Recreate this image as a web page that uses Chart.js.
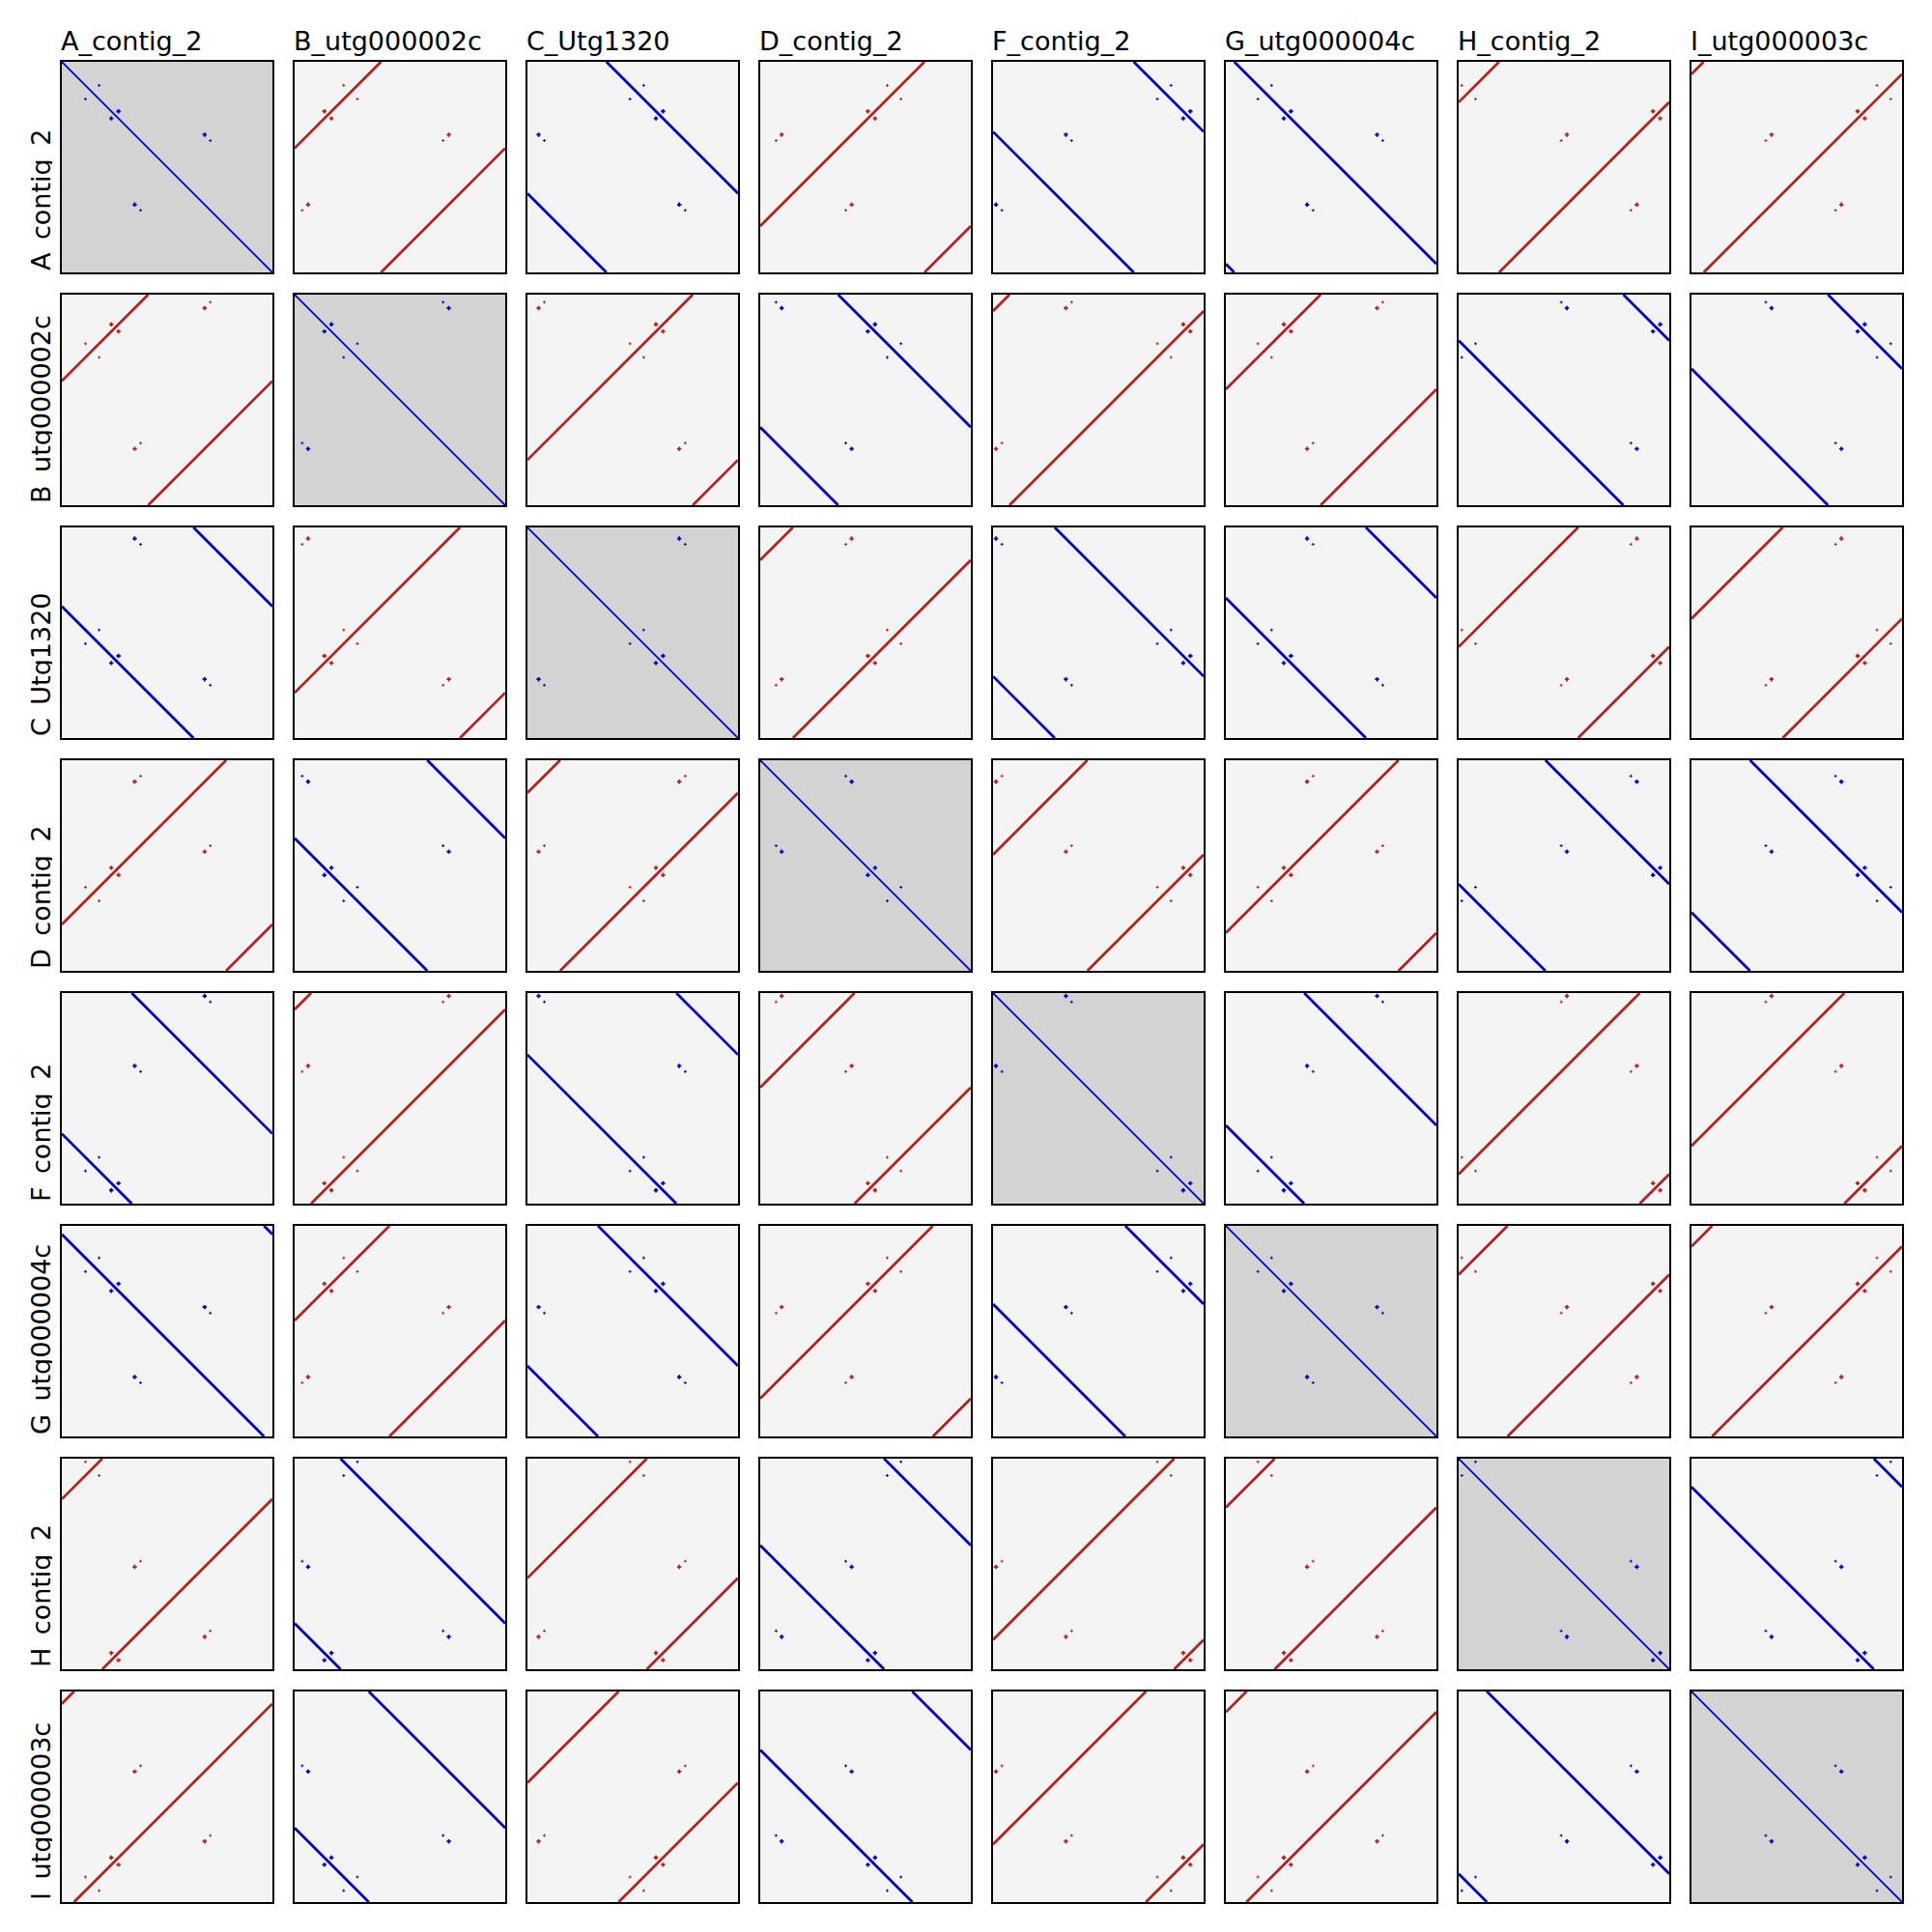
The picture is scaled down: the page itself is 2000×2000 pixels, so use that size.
<!DOCTYPE html>
<html>
<head>
<meta charset="utf-8">
<script src="https://cdn.jsdelivr.net/npm/chart.js@4.4.1/dist/chart.umd.min.js"></script>
<style>
    body { margin: 0; background: #fff; font-family: "DejaVu Sans", sans-serif; }
    #fig { position: relative; width: 2000px; height: 2000px; }
    .panel { position: absolute; width: 222px; height: 222px; box-sizing: border-box; border: 2px solid #000; background: #f4f4f4; }
    .panel.self { background: #d3d3d3; }
    .panel canvas { display: block; }
    .title { position: absolute; font-size: 27px; line-height: 27px; white-space: nowrap; color: #000; }
    .rowclip { position: absolute; left: 0; width: 54px; height: 222px; overflow: hidden; }
    .rowlab { position: absolute; left: 29px; font-size: 27px; line-height: 27px; white-space: nowrap; color: #000;
              transform-origin: 0 0; transform: rotate(-90deg); }
</style>
</head>
<body>
<div id="fig"></div>
<script>
// contigs, in plot order (rows and columns)
const contigNames = ['A_contig_2', 'B_utg000002c', 'C_Utg1320', 'D_contig_2',
                     'F_contig_2', 'G_utg000004c', 'H_contig_2', 'I_utg000003c'];
// where each contig starts on the A_contig_2 coordinate (fraction of length) and its strand
const contigOffsets = [0, 0.41, 0.625, 0.78, 0.332, 0.96, 0.192, 0.058];
const contigStrands = [1, -1, 1, -1, 1, 1, -1, -1];
// short repeats, both copies given in A_contig_2 coordinates
const repeatFirst = [0.112, 0.235, 0.346, 0.374];
const repeatSecond = [0.177, 0.269, 0.678, 0.705];

// styles
const sameColor = '#0000cd';
const revColor = '#b22222';
const dotRadius = [1.5, 2.2, 2.2, 1.5];
const dotWidth = [1, 1.8, 1.8, 1];

const step = 241, origin = 62, box = 222;

function pos(k, g) {
    return ((contigStrands[k] * (g - contigOffsets[k])) % 1 + 1) % 1;
}

// alignment line of contig j (x) against contig i (y), wrapped at the ends
function segments(i, j) {
    const k = contigStrands[i] * contigStrands[j];
    const c = ((contigStrands[i] * (contigOffsets[j] - contigOffsets[i])) % 1 + 1) % 1;
    let segs;
    if (k > 0) {
        segs = [[{x: 0, y: c}, {x: 1 - c, y: 1}], [{x: 1 - c, y: 0}, {x: 1, y: c}]];
    } else {
        segs = [[{x: 0, y: c}, {x: c, y: 0}], [{x: c, y: 1}, {x: 1, y: c}]];
    }
    return segs.filter(s => Math.abs(s[0].x - s[1].x) > 1e-6);
}

const fig = document.getElementById('fig');

contigNames.forEach((name, j) => {
    const t = document.createElement('div');
    t.className = 'title';
    t.textContent = name;
    t.style.left = (origin + step * j + 1) + 'px';
    t.style.top = (origin - 33) + 'px';
    fig.appendChild(t);
});

contigNames.forEach((name, i) => {
    const clip = document.createElement('div');
    clip.className = 'rowclip';
    clip.style.top = (origin + step * i) + 'px';
    const lab = document.createElement('span');
    lab.className = 'rowlab';
    lab.textContent = name;
    lab.style.top = (box - 4) + 'px';
    clip.appendChild(lab);
    fig.appendChild(clip);
});

for (let i = 0; i < contigNames.length; i++) {
    for (let j = 0; j < contigNames.length; j++) {
        const panel = document.createElement('div');
        panel.className = 'panel' + (i === j ? ' self' : '');
        panel.style.left = (origin + step * j) + 'px';
        panel.style.top = (origin + step * i) + 'px';
        const cv = document.createElement('canvas');
        cv.width = 218;
        cv.height = 218;
        panel.appendChild(cv);
        fig.appendChild(panel);

        const color = contigStrands[i] * contigStrands[j] > 0 ? sameColor : revColor;
        const datasets = [];
        repeatFirst.forEach((a, r) => {
            const b = repeatSecond[r];
            datasets.push({
                data: [{x: pos(j, a), y: pos(i, b)}, {x: pos(j, b), y: pos(i, a)}],
                pointStyle: 'cross',
                pointRadius: dotRadius[r],
                borderWidth: dotWidth[r],
                borderColor: color,
                backgroundColor: color
            });
        });
        segments(i, j).forEach(seg => {
            datasets.push({
                data: seg,
                showLine: true,
                borderColor: color,
                borderWidth: i === j ? 1.8 : 2.8,
                pointRadius: 0,
                clip: 0
            });
        });

        new Chart(cv.getContext('2d'), {
            type: 'scatter',
            data: { datasets: datasets },
            options: {
                responsive: false,
                animation: false,
                events: [],
                layout: { padding: 0, autoPadding: false },
                plugins: { legend: { display: false }, tooltip: { enabled: false } },
                scales: {
                    x: { type: 'linear', min: 0, max: 1, display: false },
                    y: { type: 'linear', min: 0, max: 1, reverse: true, display: false }
                }
            }
        });
    }
}
</script>
</body>
</html>
